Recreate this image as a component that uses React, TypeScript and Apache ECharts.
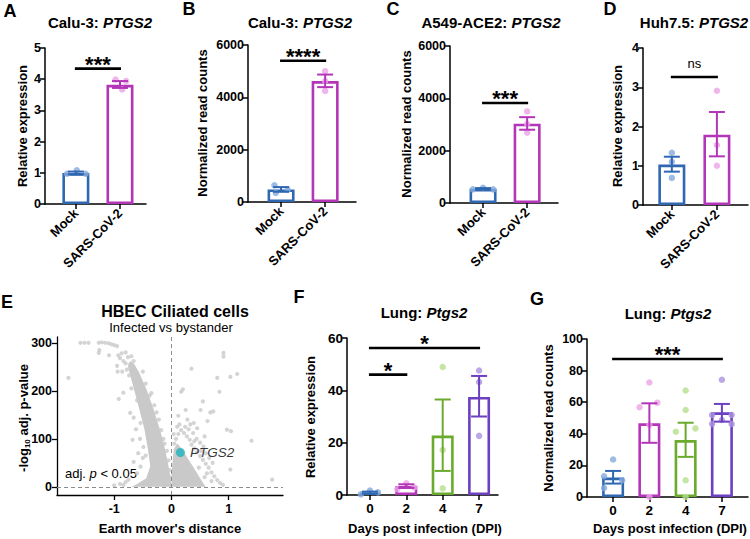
import React, { useEffect, useRef } from "react";
import * as echarts from "echarts";

const FONT = "Arial, 'Liberation Sans', Helvetica, sans-serif";

const BLUE = "#2f67b1", BLUE_PT = "#86aadf";
const MAG = "#b436b8", MAG_PT = "#eba4ea";
const GREEN = "#6aaa2c", GREEN_PT = "#b6de8e";
const PURPLE = "#6c40c0", PURPLE_PT = "#ab92df";
const TEAL = "#1fb3be";
const GRAY = "#c9c9c9";

// ---------- Panels A-D (cell lines) ----------
const cellCategories = ["Mock", "SARS-CoV-2"];

const aMeans = [0.99, 3.82];
const aErrLow = [0.95, 3.72];
const aErrHigh = [1.04, 3.94];
const aPoints = [[0.97, 1.08, 0.97], [3.99, 3.94, 3.67]];
const aJitter = [[-0.2, 0.02, 0.22], [-0.1, 0.14, 0.05]];
const aSig = [[0, 1, 4.34]];
const aSigLabels = ["***"];

const bMeans = [480, 4620];
const bErrLow = [390, 4390];
const bErrHigh = [570, 4870];
const bPoints = [[640, 480, 350], [5000, 4625, 4245]];
const bJitter = [[-0.15, 0.15, -0.12], [0, 0, 0]];
const bSig = [[0, 1, 5400]];
const bSigLabels = ["****"];

const cMeans = [540, 3030];
const cErrLow = [510, 2800];
const cErrHigh = [570, 3280];
const cPoints = [[520, 585, 520], [3500, 3030, 2690]];
const cJitter = [[-0.23, 0, 0.23], [0, 0, 0]];
const cSig = [[0, 1, 3820]];
const cSigLabels = ["***"];

const dMeans = [1.03, 1.79];
const dErrLow = [0.85, 1.24];
const dErrHigh = [1.23, 2.37];
const dPoints = [[1.33, 1.1, 0.69], [2.91, 1.53, 1.0]];
const dJitter = [[0, 0, 0], [0, 0, 0]];
const dSig = [[0, 1, 3.26]];
const dSigLabels = ["ns"];

// ---------- Panels F, G (lung) ----------
const dpiCategories = ["0", "2", "4", "7"];

const fMeans = [0.9, 3.4, 22.7, 37.5];
const fErrLow = [0.5, 2.7, 9.2, 30.0];
const fErrHigh = [1.3, 4.1, 36.5, 45.5];
const fPoints = [[0.25, 1.66, 1.0], [2.2, 4.5, 2.9], [48.9, 17.2, 2.55], [47.6, 43.2, 22.6]];
const fJitter = [[-0.25, 0, 0.22], [-0.25, 0, 0.22], [0, 0, 0], [0, 0, 0]];
const fSig = [[0, 3, 56.2], [0, 1, 46]];
const fSigLabels = ["*", "*"];

const gMeans = [12.3, 46.6, 36, 53.6];
const gErrLow = [8.5, 34.3, 25.4, 47.7];
const gErrHigh = [16.5, 59.3, 47, 58.9];
const gPoints = [
  [23.7, 13.1, 10.6, 5.7],
  [72.5, 56.8, 59.7, 45.6, 0],
  [67.4, 55.1, 41.3, 43.4, 10.6, 0],
  [74.2, 51.9, 51.9, 46.2, 46.2, 48.7],
];
const gJitter = [
  [0, -0.25, 0.25, -0.25],
  [0, -0.27, 0.22, 0, 0],
  [0, 0, -0.27, 0.27, 0, 0],
  [0, -0.27, 0.27, -0.27, 0.27, 0],
];
const gSig = [[0, 3, 87.3]];
const gSigLabels = ["***"];

// ---------- Panel E (volcano) ----------
const leftBand = [
  [-0.76, 250], [-0.73, 237], [-0.65, 201], [-0.56, 161], [-0.47, 119], [-0.41, 78],
  [-0.37, 43], [-0.44, 18], [-0.6, 6], [-0.7, 0], [0.0, 0], [-0.01, 15], [-0.05, 43],
  [-0.11, 78], [-0.2, 119], [-0.31, 161], [-0.43, 201], [-0.56, 237], [-0.65, 256], [-0.72, 262],
];
const rightBand = [
  [0.0, 0], [0.01, 40], [0.04, 78], [0.1, 90], [0.18, 80], [0.28, 60], [0.38, 42],
  [0.48, 22], [0.56, 7], [0.6, 0],
];
const volcanoPoints = [
  [-1.59, 300], [-1.52, 300], [-1.45, 300], [-1.27, 300], [-1.22, 301], [-1.16, 300], [-1.1, 299],
  [-1.05, 297], [-1.0, 295], [-0.95, 293], [-1.26, 285], [-1.27, 279], [-1.09, 274], [-0.93, 274],
  [-0.87, 278], [-0.8, 280], [-0.9, 268], [-0.84, 262], [-0.76, 270], [-0.7, 272], [-0.8, 257],
  [-0.72, 255], [-0.66, 262], [-0.94, 240], [-0.86, 240], [-0.78, 244], [-0.7, 245], [-0.74, 232],
  [-0.64, 236], [-1.8, 227], [-0.62, 224], [-0.84, 196], [-0.92, 183], [-0.95, 252], [-0.68, 250],
  [-0.72, 154], [-0.66, 144], [-0.54, 133], [-0.68, 98], [-0.49, 83], [-0.66, 52], [-0.54, 42],
  [-0.75, 15], [-0.84, 4], [-0.6, 180], [-0.7, 205], [-0.62, 120], [-0.55, 100], [-0.5, 60],
  [-0.6, 28], [-0.8, 10], [-0.9, 6], [-1.0, 3], [-0.52, 170], [-0.45, 65], [-0.58, 70],
  [-0.5, 240], [-0.45, 215], [-0.38, 190], [-0.3, 170], [-0.22, 140], [-0.18, 118], [-0.14, 100],
  [-0.08, 75], [-0.05, 55], [-0.03, 35], [-0.02, 20], [-0.35, 195], [-0.26, 155], [-0.12, 90],
  [0.05, 90], [0.08, 100], [0.12, 110], [0.17, 118], [0.22, 112], [0.27, 105], [0.32, 98],
  [0.24, 125], [0.3, 120], [0.35, 88], [0.4, 80], [0.45, 72], [0.5, 64], [0.55, 56], [0.6, 48],
  [0.65, 40], [0.7, 30], [0.75, 22], [0.8, 14], [0.85, 8], [0.14, 130], [0.38, 112], [0.44, 100],
  [0.5, 92], [0.56, 84], [0.6, 70], [0.66, 60], [0.72, 50], [0.62, 28], [0.7, 12], [0.9, 4],
  [0.12, 148], [0.17, 198], [0.2, 203], [0.28, 140], [0.33, 130], [0.45, 122], [0.58, 105],
  [0.25, 160], [0.4, 95], [0.52, 75], [0.48, 40], [0.58, 20], [0.04, 110], [0.1, 125],
  [0.91, 279], [0.91, 271], [0.35, 246], [1.03, 229], [1.15, 235], [0.8, 227], [0.84, 198],
  [0.51, 160], [0.68, 155], [0.63, 137], [0.39, 133], [0.97, 119], [1.04, 116], [1.4, 96],
  [1.03, 36], [1.76, 15], [0.73, 157], [0.55, 178],
  [-0.3, 5], [-0.2, 8], [-0.1, 4], [-0.4, 3], [0.1, 3], [0.3, 5], [0.5, 4],
];
const ptgs2Point = [0.157, 71.5];

// ---------- builders ----------
const plainNum = (v: number) => String(v);
const AXIS_LINE = { show: true, onZero: false, lineStyle: { color: "#000", width: 1.5 } };
const AXIS_TICK = (vals?: number[]) => ({
  show: true, length: 5, lineStyle: { color: "#000", width: 1.5 },
  ...(vals ? { customValues: vals } : {}),
});

function yAxis(gi: number, min: number, max: number, interval: number, fontSize = 12.5) {
  return {
    type: "value", gridIndex: gi, min, max, interval,
    axisLine: AXIS_LINE, axisTick: AXIS_TICK(),
    axisLabel: { color: "#000", fontWeight: "bold", fontSize, fontFamily: FONT, margin: 4, formatter: plainNum },
    splitLine: { show: false },
  };
}

function catXAxis(gi: number, min: number, max: number, cats: string[], rotate: number, fontSize: number) {
  const vals = cats.map((_, i) => i);
  return {
    type: "value", gridIndex: gi, min, max,
    axisLine: AXIS_LINE, axisTick: AXIS_TICK(vals),
    axisLabel: {
      customValues: vals, formatter: (v: number) => cats[Math.round(v)] ?? "",
      rotate, color: "#000", fontWeight: "bold", fontSize, fontFamily: FONT, margin: rotate ? 7 : 6,
    },
    splitLine: { show: false },
  };
}

function barPanelSeries(
  gi: number, means: number[], low: number[], high: number[], points: number[][], jitter: number[][],
  colors: string[], ptColors: string[], sig: number[][], sigLabels: string[], barWidth: number,
) {
  const series: any[] = [];
  series.push({
    type: "bar", xAxisIndex: gi, yAxisIndex: gi, barWidth, silent: true, z: 2,
    data: means.map((m, i) => ({
      value: [i, m],
      itemStyle: { color: "#fff", borderColor: colors[i], borderWidth: 2.6 },
    })),
  });
  const ptData: any[] = [];
  points.forEach((grp, g) => grp.forEach((v, k) => {
    ptData.push({ value: [g + jitter[g][k], v], itemStyle: { color: ptColors[g] } });
  }));
  series.push({
    type: "scatter", xAxisIndex: gi, yAxisIndex: gi, symbolSize: 6.5, silent: true, z: 3, data: ptData,
  });
  series.push({
    type: "custom", xAxisIndex: gi, yAxisIndex: gi, silent: true, z: 4,
    data: means.map((_, i) => [i, low[i], high[i]]),
    renderItem: (params: any, api: any) => {
      const x = api.value(0);
      const lo = api.coord([x, api.value(1)]);
      const hi = api.coord([x, api.value(2)]);
      const c = colors[params.dataIndex];
      const w = 8;
      const st = { stroke: c, lineWidth: 2 };
      return {
        type: "group",
        children: [
          { type: "line", shape: { x1: lo[0], y1: lo[1], x2: hi[0], y2: hi[1] }, style: st },
          { type: "line", shape: { x1: hi[0] - w, y1: hi[1], x2: hi[0] + w, y2: hi[1] }, style: st },
          { type: "line", shape: { x1: lo[0] - w, y1: lo[1], x2: lo[0] + w, y2: lo[1] }, style: st },
        ],
      };
    },
  });
  series.push({
    type: "custom", xAxisIndex: gi, yAxisIndex: gi, silent: true, z: 5,
    data: sig,
    renderItem: (params: any, api: any) => {
      const a = api.coord([api.value(0), api.value(2)]);
      const b = api.coord([api.value(1), api.value(2)]);
      const lab = sigLabels[params.dataIndex];
      const ns = lab === "ns";
      return {
        type: "group",
        children: [
          { type: "line", shape: { x1: a[0] - 1, y1: a[1], x2: b[0] + 1, y2: b[1] }, style: { stroke: "#000", lineWidth: 2.6 } },
          {
            type: "text", x: (a[0] + b[0]) / 2, y: a[1] - (ns ? 14 : 4.5),
            style: {
              text: lab, textAlign: "center", textVerticalAlign: "middle", fill: "#000",
              font: ns ? `13px ${FONT}` : `bold 22px ${FONT}`,
            },
          },
        ],
      };
    },
  });
  return series;
}

function txt(x: number, y: number, text: string, font: string, extra: any = {}) {
  return {
    type: "text", x, y, silent: true, ...extra,
    style: { text, font, fill: "#000", textAlign: "center", textVerticalAlign: "middle", ...(extra.style || {}) },
  };
}

function titleRich(x: number, y: number, plain: string, ital: string, size = 15) {
  return {
    type: "text", x, y, silent: true,
    style: {
      text: `{a|${plain}}{b|${ital}}`, textAlign: "center", textVerticalAlign: "middle",
      rich: {
        a: { fontFamily: FONT, fontWeight: "bold", fontSize: size, fill: "#000" },
        b: { fontFamily: FONT, fontWeight: "bold", fontStyle: "italic", fontSize: size, fill: "#000" },
      },
    },
  };
}

const ROT = Math.PI / 2;

export default function App() {
  const ref = useRef<HTMLDivElement>(null);
  useEffect(() => {
    const chart = echarts.init(ref.current!, undefined, { renderer: "svg" });
    const cellColors = [BLUE, MAG];
    const cellPt = [BLUE_PT, MAG_PT];
    const lungColors = [BLUE, MAG, GREEN, PURPLE];
    const lungPt = [BLUE_PT, MAG_PT, GREEN_PT, PURPLE_PT];

    const option: any = {
      animation: false,
      grid: [
        { left: 45, top: 48, width: 101, height: 156 },
        { left: 248, top: 45, width: 108, height: 157 },
        { left: 450, top: 46, width: 108, height: 157 },
        { left: 643, top: 48, width: 105, height: 157 },
        { left: 57, top: 337, width: 226, height: 158 },
        { left: 347, top: 338, width: 151, height: 157 },
        { left: 587, top: 339, width: 161, height: 158 },
      ],
      xAxis: [
        catXAxis(0, -0.7, 1.59, cellCategories, 45, 13),
        catXAxis(1, -0.75, 1.7, cellCategories, 45, 13),
        catXAxis(2, -0.75, 1.7, cellCategories, 45, 13),
        catXAxis(3, -0.64, 1.69, cellCategories, 45, 13),
        {
          type: "value", gridIndex: 4, min: -2, max: 1.95,
          axisLine: { show: true, onZero: false, lineStyle: { color: "#000", width: 1.3 } },
          axisTick: { show: true, length: 5, customValues: [-1, 0, 1], lineStyle: { color: "#000", width: 1.3 } },
          axisLabel: { customValues: [-1, 0, 1], color: "#000", fontWeight: "bold", fontSize: 12.5, fontFamily: FONT, margin: 7 },
          splitLine: { show: false },
        },
        catXAxis(5, -0.63, 3.52, dpiCategories, 0, 13.5),
        catXAxis(6, -0.72, 3.72, dpiCategories, 0, 13.5),
      ],
      yAxis: [
        yAxis(0, 0, 5, 1),
        yAxis(1, 0, 6000, 2000),
        yAxis(2, 0, 6000, 2000),
        yAxis(3, 0, 4, 1),
        {
          type: "value", gridIndex: 4, min: -17, max: 312,
          axisLine: { show: true, onZero: false, lineStyle: { color: "#000", width: 1.3 } },
          axisTick: { show: true, length: 5, customValues: [0, 100, 200, 300], lineStyle: { color: "#000", width: 1.3 } },
          axisLabel: { customValues: [0, 100, 200, 300], color: "#000", fontWeight: "bold", fontSize: 12.5, fontFamily: FONT, margin: 5, formatter: plainNum },
          splitLine: { show: false },
        },
        yAxis(5, 0, 60, 20, 13.5),
        yAxis(6, 0, 100, 20, 12.5),
      ],
      series: [
        ...barPanelSeries(0, aMeans, aErrLow, aErrHigh, aPoints, aJitter, cellColors, cellPt, aSig, aSigLabels, 27),
        ...barPanelSeries(1, bMeans, bErrLow, bErrHigh, bPoints, bJitter, cellColors, cellPt, bSig, bSigLabels, 27),
        ...barPanelSeries(2, cMeans, cErrLow, cErrHigh, cPoints, cJitter, cellColors, cellPt, cSig, cSigLabels, 27),
        ...barPanelSeries(3, dMeans, dErrLow, dErrHigh, dPoints, dJitter, cellColors, cellPt, dSig, dSigLabels, 27),
        ...barPanelSeries(5, fMeans, fErrLow, fErrHigh, fPoints, fJitter, lungColors, lungPt, fSig, fSigLabels, 22),
        ...barPanelSeries(6, gMeans, gErrLow, gErrHigh, gPoints, gJitter, lungColors, lungPt, gSig, gSigLabels, 22),
        {
          type: "custom", xAxisIndex: 4, yAxisIndex: 4, silent: true, z: 1,
          data: [[0, 0], [1, 0]],
          renderItem: (params: any, api: any) => {
            const poly = params.dataIndex === 0 ? leftBand : rightBand;
            return { type: "polygon", shape: { points: poly.map((p) => api.coord(p)) }, style: { fill: GRAY } };
          },
        },
        {
          type: "scatter", xAxisIndex: 4, yAxisIndex: 4, silent: true, z: 2, symbolSize: 4.2,
          itemStyle: { color: GRAY }, data: volcanoPoints,
          markLine: {
            silent: true, symbol: "none", label: { show: false },
            lineStyle: { type: [4, 3], color: "#8c8c8c", width: 1 },
            data: [{ xAxis: 0 }, { yAxis: 0 }],
          },
        },
        {
          type: "scatter", xAxisIndex: 4, yAxisIndex: 4, silent: true, z: 3, symbolSize: 9,
          itemStyle: { color: TEAL }, data: [ptgs2Point],
          label: {
            show: true, position: "right", distance: 5, formatter: "PTGS2",
            fontStyle: "italic", fontSize: 13.5, fontFamily: FONT, color: "#000",
          },
        },
      ],
      graphic: [
        // panel letters
        txt(10, 11, "A", `bold 18px ${FONT}`),
        txt(189, 9, "B", `bold 18px ${FONT}`),
        txt(393, 9, "C", `bold 18px ${FONT}`),
        txt(610, 9, "D", `bold 18px ${FONT}`),
        txt(7, 302, "E", `bold 18px ${FONT}`),
        txt(299, 297, "F", `bold 18px ${FONT}`),
        txt(537, 299, "G", `bold 18px ${FONT}`),
        // titles
        titleRich(100, 22, "Calu-3: ", "PTGS2"),
        titleRich(300, 22, "Calu-3: ", "PTGS2"),
        titleRich(491, 22, "A549-ACE2: ", "PTGS2"),
        titleRich(694, 22, "Huh7.5: ", "PTGS2"),
        titleRich(424, 312, "Lung: ", "Ptgs2"),
        titleRich(668, 313, "Lung: ", "Ptgs2"),
        txt(175, 311, "HBEC Ciliated cells", `bold 16px ${FONT}`),
        txt(171, 327.5, "Infected vs bystander", `13px ${FONT}`),
        // y-axis names
        txt(22, 126, "Relative expression", `bold 13px ${FONT}`, { rotation: ROT }),
        txt(202, 123, "Normalized read counts", `bold 13px ${FONT}`, { rotation: ROT }),
        txt(406, 124, "Normalized read counts", `bold 13px ${FONT}`, { rotation: ROT }),
        txt(617, 126, "Relative expression", `bold 13px ${FONT}`, { rotation: ROT }),
        txt(310, 417, "Relative expression", `bold 13px ${FONT}`, { rotation: ROT }),
        txt(548, 418, "Normalized read counts", `bold 13px ${FONT}`, { rotation: ROT }),
        {
          type: "text", x: 23, y: 418, rotation: ROT, silent: true,
          style: {
            text: "{a|-log}{b|10}{a| adj. p-value}", textAlign: "center", textVerticalAlign: "middle",
            rich: {
              a: { fontFamily: FONT, fontWeight: "bold", fontSize: 13, lineHeight: 16, verticalAlign: "middle", fill: "#000" },
              b: { fontFamily: FONT, fontWeight: "bold", fontSize: 8, lineHeight: 9, verticalAlign: "bottom", fill: "#000" },
            },
          },
        },
        // x-axis names
        txt(170, 528, "Earth mover's distance", `bold 13px ${FONT}`),
        txt(425, 528, "Days post infection (DPI)", `bold 13px ${FONT}`),
        txt(670, 528, "Days post infection (DPI)", `bold 13px ${FONT}`),
        // annotation
        {
          type: "text", x: 65, y: 473, silent: true,
          style: {
            text: "{a|adj. }{b|p}{a| < 0.05}", textAlign: "left", textVerticalAlign: "middle",
            rich: {
              a: { fontFamily: FONT, fontSize: 13, fill: "#000" },
              b: { fontFamily: FONT, fontSize: 13, fontStyle: "italic", fill: "#000" },
            },
          },
        },
      ],
    };
    chart.setOption(option);
    return () => chart.dispose();
  }, []);
  return (
    <div
      ref={ref}
      style={{ position: "fixed", left: 0, top: 0, width: 750, height: 539, background: "#fff" }}
    />
  );
}
